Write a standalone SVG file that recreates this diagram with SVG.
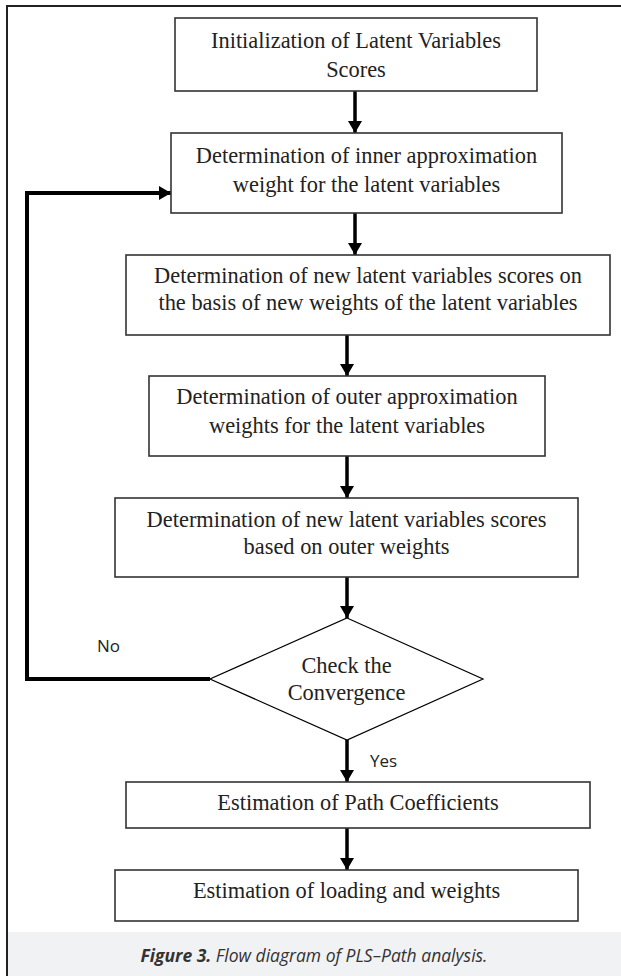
<svg xmlns="http://www.w3.org/2000/svg" width="621" height="976" viewBox="0 0 621 976">
<style>
.box{fill:#fff;stroke:#333;stroke-width:1.6}
.t{font-family:"Liberation Serif","Times New Roman",serif;font-size:22.4px;fill:#222;text-anchor:middle}
.lbl{font-family:"Open Sans","Liberation Sans",sans-serif;font-size:17px;fill:#222}
.arr{stroke:#000;stroke-width:3.5;fill:none}
.cap{font-family:"Open Sans","Liberation Sans",sans-serif;font-size:17.5px;font-style:italic;fill:#333;text-anchor:middle}
</style>
<defs>
<marker id="ah" viewBox="0 0 12 14" refX="12" refY="7" markerWidth="12" markerHeight="14" markerUnits="userSpaceOnUse" orient="auto">
<path d="M0,0 L12,7 L0,14 z" fill="#000"/>
</marker>
</defs>
<rect x="0" y="0" width="621" height="976" fill="#fff"/>
<rect x="8" y="932" width="613" height="44" fill="#f1f2f4"/>
<path d="M7,976 V6 H621" fill="none" stroke="#222" stroke-width="2"/>
<g id="connectors">
<line class="arr" x1="355" y1="91" x2="355" y2="133" marker-end="url(#ah)"/>
<line class="arr" x1="355" y1="213" x2="355" y2="255" marker-end="url(#ah)"/>
<line class="arr" x1="347" y1="335" x2="347" y2="376" marker-end="url(#ah)"/>
<line class="arr" x1="347" y1="456" x2="347" y2="498" marker-end="url(#ah)"/>
<line class="arr" x1="347" y1="577" x2="347" y2="618" marker-end="url(#ah)"/>
<line class="arr" x1="347" y1="740" x2="347" y2="782" marker-end="url(#ah)"/>
<line class="arr" x1="347" y1="828" x2="347" y2="870" marker-end="url(#ah)"/>
<path d="M210,679 H27 V193 H171" fill="none" stroke="#000" stroke-width="4" marker-end="url(#ah)"/>
<text class="lbl" x="97" y="652">No</text>
<text class="lbl" x="370" y="767">Yes</text>
</g>
<g id="n1">
<rect class="box" x="175" y="18" width="362" height="73"/>
<text class="t" x="356" y="48">Initialization of Latent Variables</text>
<text class="t" x="356" y="77">Scores</text>
</g>
<g id="n2">
<rect class="box" x="171" y="133" width="391" height="80"/>
<text class="t" x="366.5" y="163">Determination of inner approximation</text>
<text class="t" x="366.5" y="192">weight for the latent variables</text>
</g>
<g id="n3">
<rect class="box" x="126" y="255" width="484" height="80"/>
<text class="t" x="368" y="283">Determination of new latent variables scores on</text>
<text class="t" x="368" y="310">the basis of new weights of the latent variables</text>
</g>
<g id="n4">
<rect class="box" x="149" y="376" width="396" height="80"/>
<text class="t" x="347" y="404">Determination of outer approximation</text>
<text class="t" x="347" y="433">weights for the latent variables</text>
</g>
<g id="n5">
<rect class="box" x="115" y="498" width="463" height="79"/>
<text class="t" x="346.5" y="527">Determination of new latent variables scores</text>
<text class="t" x="346.5" y="554">based on outer weights</text>
</g>
<g id="n6">
<polygon points="347,618 483,679 347,740 210,679" fill="#fff" stroke="#000" stroke-width="1.2"/>
<text class="t" x="346.5" y="673">Check the</text>
<text class="t" x="346.5" y="700">Convergence</text>
</g>
<g id="n7">
<rect class="box" x="126" y="782" width="464" height="46"/>
<text class="t" x="358" y="810">Estimation of Path Coefficients</text>
</g>
<g id="n8">
<rect class="box" x="115" y="870" width="463" height="51"/>
<text class="t" x="346.5" y="898">Estimation of loading and weights</text>
</g>
<text class="cap" x="314" y="962"><tspan font-weight="bold">Figure 3.</tspan> Flow diagram of PLS–Path analysis.</text>
</svg>
